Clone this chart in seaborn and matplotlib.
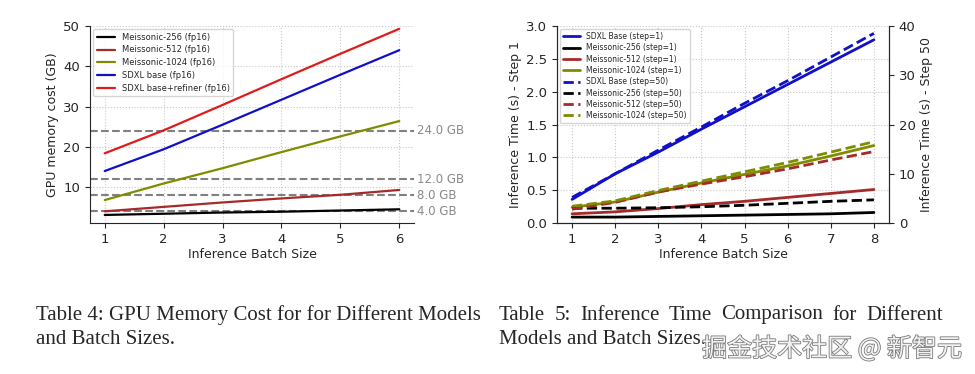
import matplotlib
matplotlib.use("Agg")
import matplotlib.pyplot as plt
import matplotlib.patheffects as pe
import seaborn as sns

# --- GPU memory data (left panel) ---
batch_mem = [1, 2, 3, 4, 5, 6]
mem_256 = [3.1, 3.4, 3.7, 3.9, 4.2, 4.5]
mem_512 = [4.0, 5.1, 6.2, 7.2, 8.1, 9.3]
mem_1024 = [6.8, 10.9, 14.7, 18.7, 22.6, 26.4]
mem_sdxl = [14.0, 19.4, 25.5, 31.7, 37.9, 44.0]
mem_sdxl_ref = [18.4, 24.1, 30.4, 36.8, 43.1, 49.3]
gpu_limits = [4.0, 8.0, 12.0, 24.0]

# --- inference time data (right panel) ---
batch_time = [1, 2, 3, 4, 5, 6, 7, 8]
t1_sdxl = [0.36, 0.75, 1.08, 1.43, 1.77, 2.11, 2.45, 2.79]
t1_256 = [0.09, 0.09, 0.10, 0.11, 0.12, 0.13, 0.14, 0.16]
t1_512 = [0.14, 0.17, 0.22, 0.28, 0.33, 0.39, 0.45, 0.51]
t1_1024 = [0.24, 0.32, 0.47, 0.61, 0.74, 0.87, 1.02, 1.18]
t50_sdxl = [5.2, 10.0, 14.8, 19.5, 24.3, 28.9, 33.7, 38.5]
t50_256 = [3.0, 3.0, 3.1, 3.3, 3.6, 4.0, 4.4, 4.7]
t50_512 = [2.8, 4.2, 6.3, 7.9, 9.4, 11.0, 12.8, 14.5]
t50_1024 = [3.4, 4.5, 6.6, 8.5, 10.4, 12.3, 14.4, 16.5]

sns.set_style("ticks")
plt.rcParams['font.family'] = ['DejaVu Sans']

BLACK, DRED, OLIVE, BLUE, RED = 'black', '#a52a2a', '#7f8c00', '#1010c8', '#e01b1b'
W, H = 975, 374
FS = 9

fig = plt.figure(figsize=(W / 100, H / 100), dpi=100)

# ---------------- left: GPU memory ----------------
ax = fig.add_axes([90 / W, 1 - 223 / H, 324 / W, 197 / H])
series = [(mem_256, BLACK, 'Meissonic-256 (fp16)'),
          (mem_512, DRED, 'Meissonic-512 (fp16)'),
          (mem_1024, OLIVE, 'Meissonic-1024 (fp16)'),
          (mem_sdxl, BLUE, 'SDXL base (fp16)'),
          (mem_sdxl_ref, RED, 'SDXL base+refiner (fp16)')]
for vals, col, lab in series:
    sns.lineplot(x=batch_mem, y=vals, ax=ax, color=col, label=lab, linewidth=1.6)
for lim in gpu_limits:
    ax.axhline(lim, color='#808080', linestyle='--', linewidth=1.5, zorder=1)
    ax.text(1.01, lim, f'{lim:.1f} GB', color='#8a8a8a', fontsize=8.5, va='center',
            transform=ax.get_yaxis_transform(), clip_on=False)
ax.set_ylim(1.1, 50)
ax.set_xticks(batch_mem)
ax.set_yticks([10, 20, 30, 40, 50])
ax.grid(True, linestyle=':', color='#c8c8c8', linewidth=0.8)
ax.set_axisbelow(True)
ax.set_xlabel('Inference Batch Size', fontsize=FS, labelpad=2)
ax.set_ylabel('GPU memory cost (GB)', fontsize=FS, labelpad=3)
ax.tick_params(labelsize=FS + 0.5)
sns.despine(ax=ax)
ax.legend(loc='upper left', fontsize=6, handlelength=2.2, labelspacing=0.45,
          borderaxespad=0.4, frameon=True)

# ---------------- right: inference time ----------------
bx = fig.add_axes([557 / W, 1 - 223 / H, 332 / W, 197 / H])
bx2 = bx.twinx()
step1 = [(t1_sdxl, BLUE, 'SDXL Base (step=1)'),
         (t1_256, BLACK, 'Meissonic-256 (step=1)'),
         (t1_512, DRED, 'Meissonic-512 (step=1)'),
         (t1_1024, OLIVE, 'Meissonic-1024 (step=1)')]
step50 = [(t50_sdxl, BLUE, 'SDXL Base (step=50)'),
          (t50_256, BLACK, 'Meissonic-256 (step=50)'),
          (t50_512, DRED, 'Meissonic-512 (step=50)'),
          (t50_1024, OLIVE, 'Meissonic-1024 (step=50)')]
for vals, col, lab in step1:
    sns.lineplot(x=batch_time, y=vals, ax=bx, color=col, label=lab, linewidth=2)
for vals, col, lab in step50:
    sns.lineplot(x=batch_time, y=vals, ax=bx2, color=col, label=lab, linewidth=2,
                 linestyle='--')
bx.set_ylim(0, 3.0)
bx2.set_ylim(0, 40)
bx.set_xticks(batch_time)
bx.set_yticks([0, 0.5, 1.0, 1.5, 2.0, 2.5, 3.0])
bx2.set_yticks([0, 10, 20, 30, 40])
bx.grid(True, linestyle=':', color='#c8c8c8', linewidth=0.8)
bx.set_axisbelow(True)
bx.set_xlabel('Inference Batch Size', fontsize=FS, labelpad=2)
bx.set_ylabel('Inference Time (s) - Step 1', fontsize=FS, labelpad=3)
bx2.set_ylabel('Inference Time (s) - Step 50', fontsize=FS, labelpad=3)
bx.tick_params(labelsize=FS + 0.5)
bx2.tick_params(labelsize=FS + 0.5)
for a in (bx, bx2):
    a.spines['top'].set_visible(False)
h1, l1 = bx.get_legend_handles_labels()
h2, l2 = bx2.get_legend_handles_labels()
bx2.get_legend().remove()
bx.get_legend().remove()
leg = bx2.legend(h1 + h2, l1 + l2, loc='upper left', fontsize=5.5, handlelength=2.2,
                 labelspacing=0.3, borderaxespad=0.4, frameon=True)

# ---------------- captions ----------------
serif = ['Liberation Serif', 'DejaVu Serif']
cap_fs = 15
fig.text(36 / W, 1 - 315 / H, 'Table 4: GPU Memory Cost for for Different Models',
         family=serif, fontsize=cap_fs, va='center')
fig.text(36 / W, 1 - 339 / H, 'and Batch Sizes.', family=serif, fontsize=cap_fs, va='center')

words = ['Table', '5:', 'Inference', 'Time', 'Comparison', 'for', 'Different']
fig.canvas.draw()
rend = fig.canvas.get_renderer()
texts = [fig.text(0, 1 - 315 / H, w, family=serif, fontsize=cap_fs, va='center') for w in words]
widths = [t.get_window_extent(rend).width for t in texts]
x_left, x_right = 499, 943
gap = (x_right - x_left - sum(widths)) / (len(words) - 1)
x = x_left
for t, w in zip(texts, widths):
    t.set_x(x / W)
    x += w + gap
fig.text(499 / W, 1 - 339 / H, 'Models and Batch Sizes.', family=serif, fontsize=cap_fs,
         va='center')

wm = fig.text(962 / W, 1 - 349 / H, '掘金技术社区 @ 新智元',
              family=['Noto Sans CJK SC', 'DejaVu Sans'], fontsize=18, ha='right',
              va='center', color='#f2f2f2')
wm.set_path_effects([pe.withStroke(linewidth=1.2, foreground='#7a7a7a')])

fig.savefig('out.png', dpi=100)
